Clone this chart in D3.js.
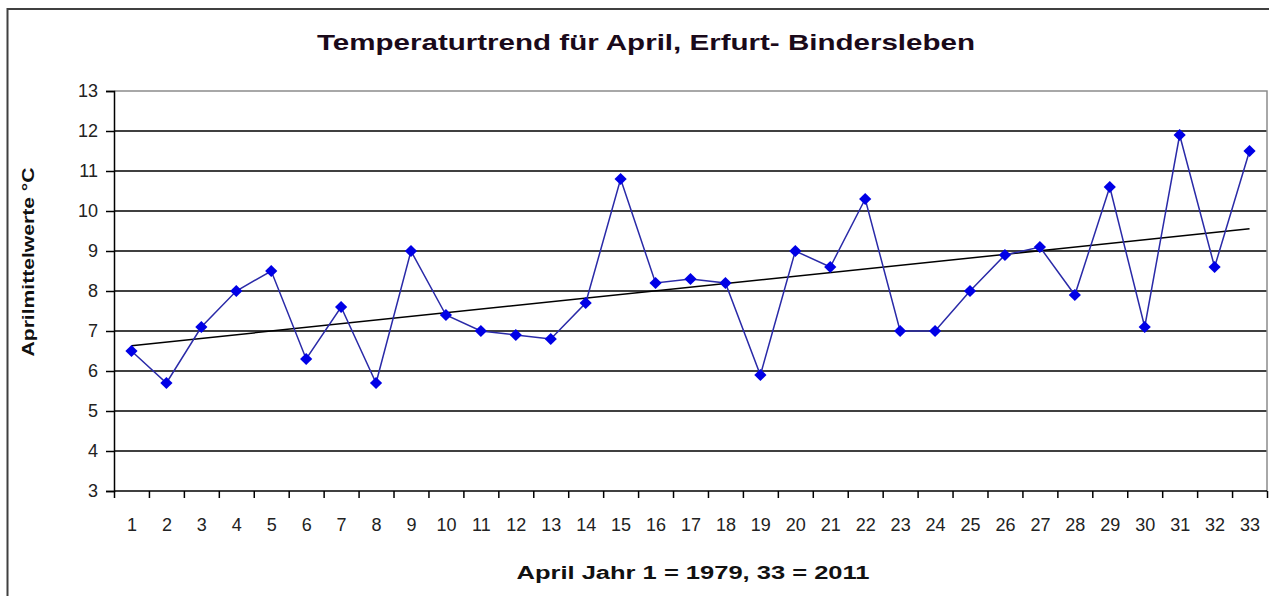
<!DOCTYPE html>
<html>
<head>
<meta charset="utf-8">
<script src="https://cdn.jsdelivr.net/npm/d3@7"></script>
<style>
  body { margin: 0; background: #fff; }
  svg { display: block; font-family: "Liberation Sans", Arial, sans-serif; }
</style>
</head>
<body>
<svg width="1269" height="596"></svg>
<script>
// April mean temperatures, Erfurt-Bindersleben, year index 1 = 1979 ... 33 = 2011
const years = d3.range(1, 34);
const temps = [6.5, 5.7, 7.1, 8.0, 8.5, 6.3, 7.6, 5.7, 9.0, 7.4,
               7.0, 6.9, 6.8, 7.7, 10.8, 8.2, 8.3, 8.2, 5.9, 9.0,
               8.6, 10.3, 7.0, 7.0, 8.0, 8.9, 9.1, 7.9, 10.6, 7.1,
               11.9, 8.6, 11.5];
const yTicks = d3.range(3, 14);

const titleText = "Temperaturtrend für April, Erfurt- Bindersleben";
const xTitleText = "April Jahr 1 = 1979, 33 = 2011";
const yTitleText = "Aprilmittelwerte °C";

const svg = d3.select("svg");
const plotL = 114, plotR = 1267, plotT = 91, plotB = 491;

const x = d3.scaleLinear().domain([0.5, 33.5]).range([plotL, plotR]);
const y = d3.scaleLinear().domain([3, 13]).range([plotB, plotT]);

// outer chart frame (right and bottom run past the picture)
svg.append("rect")
    .attr("x", 7.5).attr("y", 9)
    .attr("width", 1300).attr("height", 620)
    .attr("fill", "none").attr("stroke", "#404040").attr("stroke-width", 2);

// grid lines
svg.append("g")
  .selectAll("line")
  .data(yTicks.filter(d => d > 3 && d < 13))
  .join("line")
    .attr("x1", plotL).attr("x2", plotR)
    .attr("y1", d => y(d)).attr("y2", d => y(d))
    .attr("stroke", "#000").attr("stroke-width", 1.5);

// plot area border top / right (grey)
svg.append("path")
    .attr("d", `M${plotL},${plotT}H${plotR}V${plotB}`)
    .attr("fill", "none").attr("stroke", "#8c8c8c").attr("stroke-width", 1.5);

// y axis
const yAxis = svg.append("g")
    .attr("transform", `translate(${plotL},0)`)
    .call(d3.axisLeft(y).tickValues(yTicks).tickSize(8).tickPadding(8).tickFormat(d3.format("d")));
yAxis.select(".domain").attr("stroke", "#000").attr("stroke-width", 1.5);
yAxis.selectAll(".tick line").attr("stroke", "#000").attr("stroke-width", 1.5);
yAxis.selectAll("text").attr("font-size", 18).attr("fill", "#222").attr("font-family", "Liberation Sans, Arial, sans-serif");

// x axis: tick marks between categories
const xAxis = svg.append("g")
    .attr("transform", `translate(0,${plotB})`)
    .call(d3.axisBottom(x).tickValues(d3.range(0.5, 34, 1)).tickSize(7).tickFormat(""));
xAxis.select(".domain").attr("stroke", "#000").attr("stroke-width", 1.5).attr("d", `M${plotL},0H${plotR}`);
xAxis.selectAll(".tick line").attr("stroke", "#000").attr("stroke-width", 1.5);

// x labels at category centres
svg.append("g")
    .attr("transform", `translate(0,${plotB})`)
    .call(d3.axisBottom(x).tickValues(years).tickSize(0).tickPadding(27).tickFormat(d3.format("d")))
    .call(g => g.select(".domain").remove())
    .selectAll("text").attr("font-size", 18).attr("fill", "#222").attr("font-family", "Liberation Sans, Arial, sans-serif");

// linear trend (least squares)
const mx = d3.mean(years), my = d3.mean(temps);
const slope = d3.sum(years, (d, i) => (d - mx) * (temps[i] - my)) / d3.sum(years, d => (d - mx) ** 2);
const icpt = my - slope * mx;
svg.append("line")
    .attr("x1", x(1)).attr("y1", y(icpt + slope * 1))
    .attr("x2", x(33)).attr("y2", y(icpt + slope * 33))
    .attr("stroke", "#000").attr("stroke-width", 1.5);

// data line
svg.append("path")
    .datum(temps)
    .attr("fill", "none")
    .attr("stroke", "#2a2aa8")
    .attr("stroke-width", 1.5)
    .attr("d", d3.line().x((d, i) => x(years[i])).y(d => y(d)));

// diamond markers
svg.append("g")
  .selectAll("path")
  .data(temps)
  .join("path")
    .attr("transform", (d, i) => `translate(${x(years[i])},${y(d)})`)
    .attr("d", d3.symbol(d3.symbolDiamond2, 95))
    .attr("fill", "#0000e6");

// titles
svg.append("text")
    .attr("x", 646).attr("y", 50)
    .attr("text-anchor", "middle")
    .attr("font-size", 22).attr("font-weight", "bold").attr("fill", "#1a0a1a")
    .attr("textLength", 658).attr("lengthAdjust", "spacingAndGlyphs")
    .text(titleText);

svg.append("text")
    .attr("x", 693).attr("y", 579)
    .attr("text-anchor", "middle")
    .attr("font-size", 18).attr("font-weight", "bold").attr("fill", "#111")
    .attr("textLength", 353).attr("lengthAdjust", "spacingAndGlyphs")
    .text(xTitleText);

svg.append("text")
    .attr("transform", "translate(34,262) rotate(-90)")
    .attr("text-anchor", "middle")
    .attr("font-size", 16).attr("font-weight", "bold").attr("fill", "#111")
    .attr("textLength", 189).attr("lengthAdjust", "spacingAndGlyphs")
    .text(yTitleText);
</script>
</body>
</html>
